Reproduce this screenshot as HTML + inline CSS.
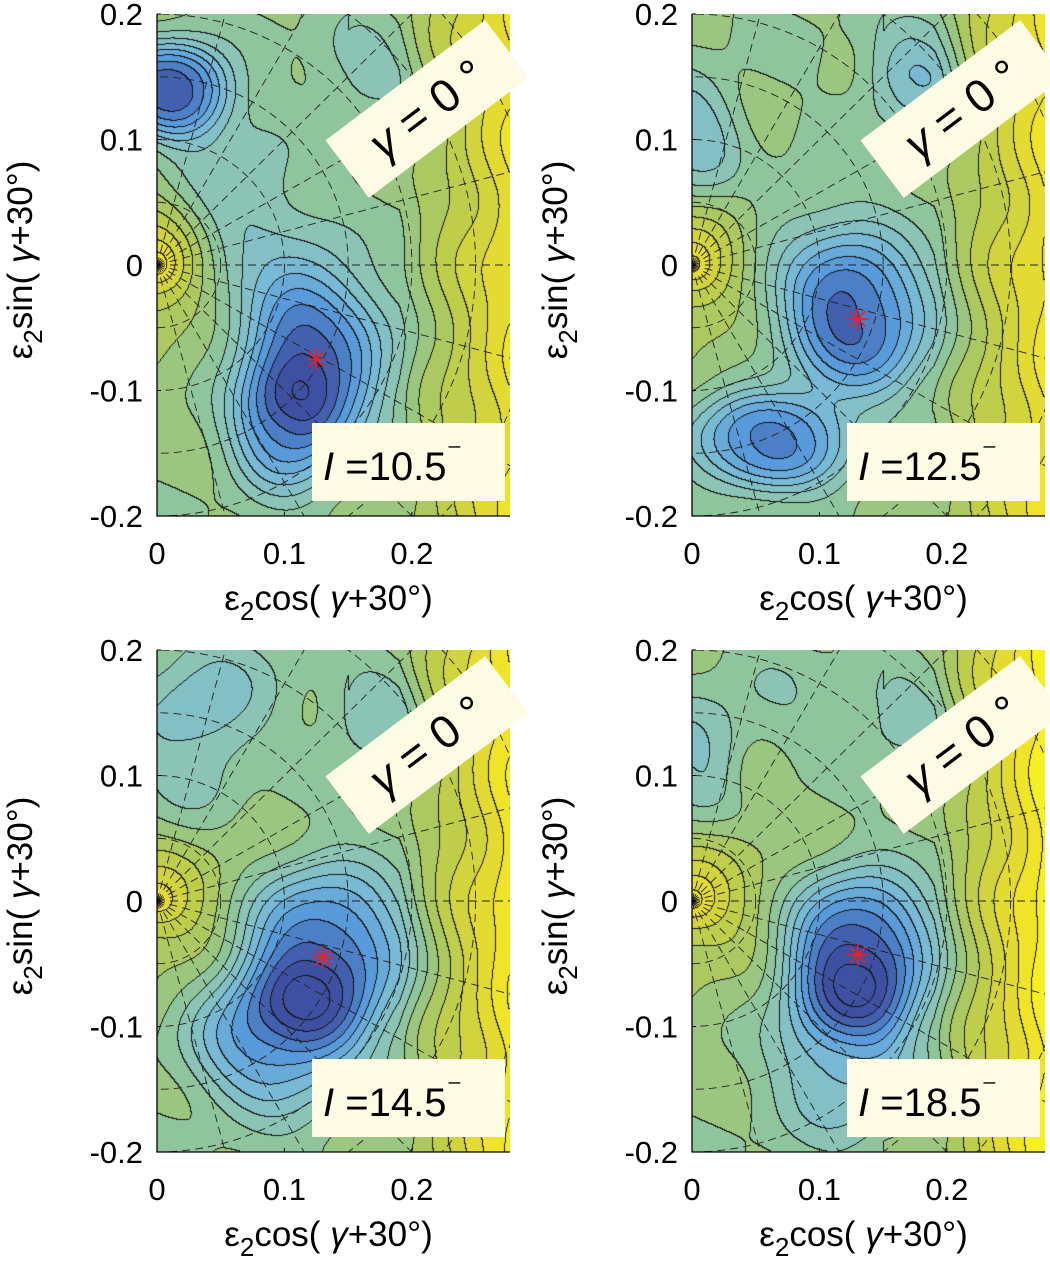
<!DOCTYPE html>
<html><head><meta charset="utf-8">
<style>
html,body{margin:0;background:#fff;width:1050px;height:1270px;overflow:hidden;font-family:"Liberation Sans",sans-serif;}
.wrap{position:absolute;left:0;top:0;width:1050px;height:1270px;overflow:hidden;}
canvas{position:absolute;}
svg{position:absolute;left:0;top:0;}
</style></head>
<body>
<div class="wrap" id="wrap">
<canvas id="c0" width="353" height="502" style="left:157px;top:14px"></canvas>
<canvas id="c1" width="353" height="502" style="left:692px;top:14px"></canvas>
<canvas id="c2" width="353" height="502" style="left:157px;top:650px"></canvas>
<canvas id="c3" width="353" height="502" style="left:692px;top:650px"></canvas>
<svg id="ov" width="1050" height="1270"></svg>
</div>
<script>
// Panel data: spins and minimum locations
const spins = ["10.5", "12.5", "14.5", "18.5"];
const minX = [0.125, 0.13, 0.13, 0.13];
const minY = [-0.075, -0.043, -0.045, -0.043];
// Gaussian wells/bumps per panel (data units)
const wellX = [[0.125,0.10,0.01,0.08,0.16,0.05],[0.13,0.06,0.0,0.17,0.09,0.18],[0.13,0.09,0.02,0.17,0.05],[0.13,0.12,0.0,0.16,0.06,0.05]];
const wellY = [[-0.075,-0.13,0.14,0.0,0.16,0.08],[-0.043,-0.14,0.1,0.14,0.0,0.17],[-0.045,-0.11,0.12,0.15,0.17],[-0.043,-0.12,0.11,0.15,0.15,0.1]];
const wellA = [[-0.42,-0.3,-0.5,-0.15,-0.1,-0.1],[-0.42,-0.42,-0.2,-0.12,-0.12,-0.1],[-0.47,-0.33,-0.12,-0.12,-0.1],[-0.52,-0.22,-0.15,-0.1,-0.05,0.05]];
const wellSX = [[0.045,0.035,0.035,0.05,0.03,0.04],[0.045,0.05,0.03,0.03,0.05,0.03],[0.05,0.05,0.04,0.03,0.04],[0.045,0.045,0.03,0.03,0.04,0.02]];
const wellSY = [[0.055,0.04,0.03,0.06,0.03,0.05],[0.05,0.03,0.04,0.03,0.06,0.03],[0.055,0.045,0.05,0.03,0.04],[0.05,0.055,0.04,0.03,0.04,0.02]];
const originAmp = [0.45, 0.4, 0.35, 0.4];
const rightSlope = [3.8, 4.0, 4.4, 5.0];
const xTicks = [0, 0.1, 0.2];
const yTicks = [0.2, 0.1, 0, -0.1, -0.2];
const xMax = 0.277, yMin = -0.2, yMax = 0.2;
const W = 353, H = 502;
const origins = [[157,14],[692,14],[157,650],[692,650]];

const cmap = [[0,[62,80,162]],[0.15,[84,150,218]],[0.3,[120,186,214]],[0.42,[138,196,186]],[0.52,[144,197,150]],[0.62,[168,199,100]],[0.72,[196,207,68]],[0.86,[234,222,44]],[1,[250,244,30]]];
function col(t){t=Math.max(0,Math.min(1,t));for(let i=1;i<cmap.length;i++){if(t<=cmap[i][0]){const a=cmap[i-1],b=cmap[i];const f=(t-a[0])/(b[0]-a[0]);return a[1].map((v,k)=>v+(b[1][k]-v)*f);}}return cmap[cmap.length-1][1];}
function field(p,x,y){
  const r=Math.hypot(x,y);
  let v=0.53+rightSlope[p]*Math.max(0,x-0.19)+0.6*Math.max(0,Math.abs(y)-0.15)*(x>0.15?1:0);
  v+=originAmp[p]*Math.exp(-r/0.04);
  for(let i=0;i<wellX[p].length;i++){
    const dx=(x-wellX[p][i])/wellSX[p][i],dy=(y-wellY[p][i])/wellSY[p][i];
    const d2=dx*dx+dy*dy;
    v+=wellA[p][i]*Math.exp(-0.5*Math.pow(d2,1.4));
  }
  v+=0.02*Math.sin(x*60+y*40)+0.015*Math.sin(y*70-x*20);
  return v;
}
const N=15;
function px2x(i){return i/W*xMax;} function px2y(j){return yMax-j/H*(yMax-yMin);}
for(let p=0;p<4;p++){
  const cv=document.getElementById('c'+p),ctx=cv.getContext('2d');
  const img=ctx.createImageData(W,H);
  const lev=new Int16Array(W*H);
  for(let j=0;j<H;j++)for(let i=0;i<W;i++){lev[j*W+i]=Math.floor(field(p,px2x(i),px2y(j))*N);}
  for(let j=0;j<H;j++)for(let i=0;i<W;i++){
    const k=j*W+i,l=lev[k];
    let c=col((l+0.5)/N);
    if((i<W-1&&lev[k+1]!==l)||(j<H-1&&lev[k+W]!==l))c=[20,20,20];
    img.data[k*4]=c[0];img.data[k*4+1]=c[1];img.data[k*4+2]=c[2];img.data[k*4+3]=255;
  }
  ctx.putImageData(img,0,0);
}
const NS='http://www.w3.org/2000/svg';
const ov=document.getElementById('ov');
function mk(tag,attrs,parent){const e=document.createElementNS(NS,tag);for(const k in attrs)e.setAttribute(k,attrs[k]);(parent||ov).appendChild(e);return e;}
const defs=mk('defs',{});
for(let p=0;p<4;p++){
  const [ox,oy]=origins[p];
  const sx=v=>ox+v/xMax*W, sy=v=>oy+(yMax-v)/(yMax-yMin)*H;
  const cp=mk('clipPath',{id:'cp'+p},defs);mk('rect',{x:ox,y:oy,width:W,height:H},cp);
  const g=mk('g',{'clip-path':'url(#cp'+p+')'});
  
  
  for(let a=-90;a<=90;a+=15){const t=a*Math.PI/180;mk('line',{x1:sx(0),y1:sy(0),x2:sx(0.5*Math.cos(t)),y2:sy(0.5*Math.sin(t)),stroke:'#222','stroke-width':0.9,'stroke-dasharray':'8,5'},g);}
  for(let e=0.05;e<0.36;e+=0.05){mk('ellipse',{cx:sx(0),cy:sy(0),rx:e/xMax*W,ry:e/(yMax-yMin)*H,fill:'none',stroke:'#222','stroke-width':0.9,'stroke-dasharray':'8,5'},g);}
  const mx=sx(minX[p]),my=sy(minY[p]);
  const star=mk('g',{stroke:'#e8202a','stroke-width':1.6});
  
  
  for(let a=0;a<180;a+=45){const t=a*Math.PI/180;mk('line',{x1:mx-11*Math.cos(t),y1:my-11*Math.sin(t),x2:mx+11*Math.cos(t),y2:my+11*Math.sin(t)},star);}
  const ax=mk('path',{d:`M${ox},${oy} V${oy+H} H${ox+W}`,fill:'none',stroke:'#000','stroke-width':1.3});
  
  
  yTicks.forEach(v=>{const t=mk('text',{x:ox-14,y:sy(v)+11,'text-anchor':'end','font-size':31});t.textContent=v===0?'0':String(v);
    
    mk('line',{x1:ox,y1:sy(v),x2:ox+4,y2:sy(v),stroke:'#000'});});
  xTicks.forEach(v=>{const t=mk('text',{x:sx(v),y:oy+H+48,'text-anchor':'middle','font-size':31});t.textContent=v===0?'0':String(v);
    
    mk('line',{x1:sx(v),y1:oy+H,x2:sx(v),y2:oy+H-4,stroke:'#000'});});
  const xt=mk('text',{x:ox+W/2-5,y:oy+H+94,'text-anchor':'middle','font-size':35});
  xt.innerHTML='ε<tspan dy="10" font-size="26">2</tspan><tspan dy="-10">cos( </tspan><tspan font-style="italic">γ</tspan>+30°)';
  
  const yt=mk('text',{x:0,y:0,'text-anchor':'middle','font-size':35,transform:`translate(${ox-125},${oy+H/2-5}) rotate(-90)`});
  yt.innerHTML='ε<tspan dy="10" font-size="26">2</tspan><tspan dy="-10">sin( </tspan><tspan font-style="italic">γ</tspan>+30°)';
  
  const gl=mk('g',{transform:`translate(${ox+270},${oy+95}) rotate(-37)`});
  
  
  mk('rect',{x:-100,y:-36,width:200,height:72,fill:'#fdfbe4'},gl);
  const gt=mk('text',{x:0,y:16,'text-anchor':'middle','font-size':46},gl);
  gt.innerHTML='<tspan font-style="italic">γ</tspan> = 0 °';
  const sl=mk('g',{});
  
  
  mk('rect',{x:ox+155,y:oy+409,width:193,height:78,fill:'#fdfbe4'},sl);
  const st=mk('text',{x:ox+166,y:oy+466,'font-size':40},sl);
  st.innerHTML='<tspan font-style="italic">I</tspan> <tspan>=</tspan>'+spins[p]+'<tspan dy="-18" font-size="30">⁻</tspan>';
}
</script>
</body></html>
